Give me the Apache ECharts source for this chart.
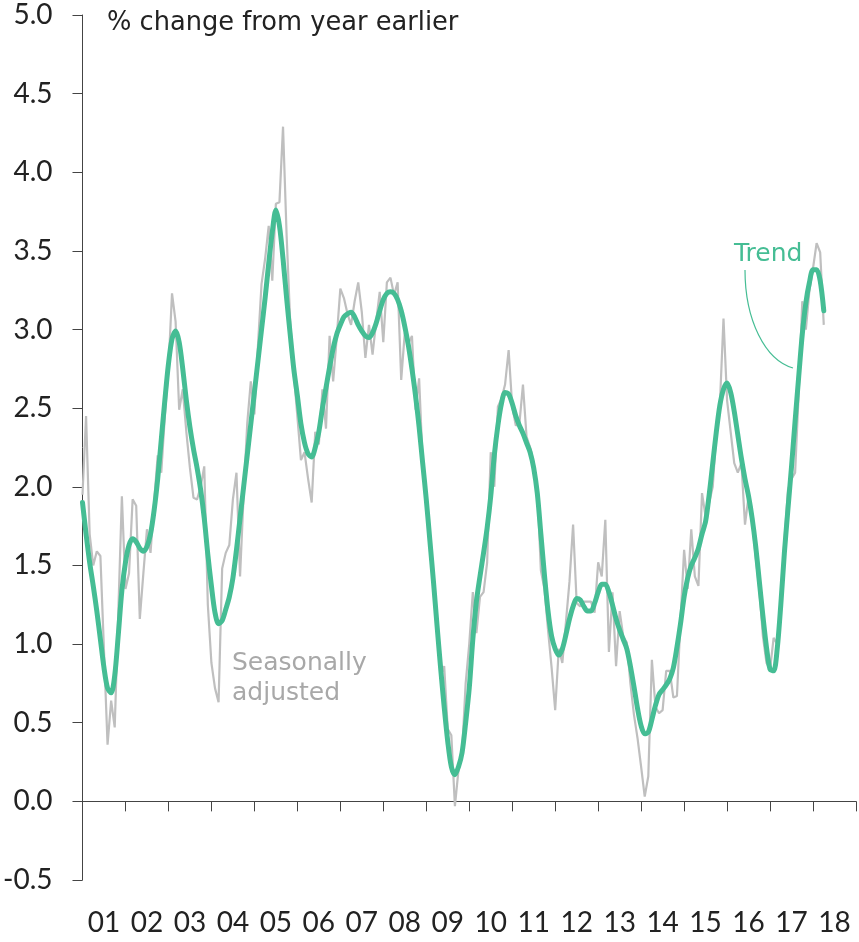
<!DOCTYPE html>
<html>
<head>
<meta charset="utf-8">
<script src="https://cdn.jsdelivr.net/npm/echarts@6/dist/echarts.min.js"></script>
<style>
  html, body { margin: 0; padding: 0; background: #fff; }
  #chart { width: 859px; height: 942px; }
</style>
</head>
<body>
<div id="chart"></div>
<script>
// Monthly series, January 2001 to April 2018 (% change from year earlier)
const startYear = 2001;
const yearLabels = ['01','02','03','04','05','06','07','08','09','10','11','12','13','14','15','16','17','18'];
const yTicks = [-0.5, 0, 0.5, 1, 1.5, 2, 2.5, 3, 3.5, 4, 4.5, 5];

const seasonallyAdjusted = [
  1.95, 2.45, 1.70, 1.50, 1.59, 1.56, 0.96, 0.36, 0.64, 0.47, 1.20, 1.94,
  1.35, 1.45, 1.92, 1.88, 1.16, 1.45, 1.73, 1.58, 1.90, 2.20, 2.09, 2.45,
  2.75, 3.23, 3.05, 2.49, 2.62, 2.35, 2.12, 1.93, 1.92, 2.00, 2.13, 1.25,
  0.88, 0.72, 0.63, 1.48, 1.58, 1.63, 1.92, 2.09, 1.43, 1.95, 2.40, 2.67,
  2.46, 2.90, 3.29, 3.45, 3.66, 3.31, 3.80, 3.81, 4.29, 3.60, 3.05, 2.72,
  2.45, 2.17, 2.22, 2.05, 1.90, 2.35, 2.27, 2.62, 2.37, 2.96, 2.67, 2.95,
  3.26, 3.20, 3.10, 3.03, 3.18, 3.30, 3.11, 2.82, 3.03, 2.84, 3.05, 3.24,
  2.92, 3.30, 3.33, 3.22, 3.30, 2.68, 2.98, 2.91, 2.96, 2.49, 2.69, 2.15,
  1.92, 1.65, 1.40, 1.10, 0.80, 0.86, 0.46, 0.42, -0.03, 0.20, 0.31, 0.75,
  1.00, 1.33, 1.07, 1.30, 1.33, 1.52, 2.22, 2.00, 2.51, 2.56, 2.65, 2.87,
  2.51, 2.39, 2.40, 2.65, 2.32, 2.25, 2.15, 2.00, 1.47, 1.35, 1.09, 0.85,
  0.58, 0.97, 0.88, 1.14, 1.40, 1.76, 1.26, 1.24, 1.27, 1.27, 1.27, 1.20,
  1.52, 1.43, 1.79, 0.95, 1.33, 0.86, 1.21, 1.05, 1.01, 0.75, 0.55, 0.40,
  0.22, 0.03, 0.16, 0.90, 0.60, 0.56, 0.58, 0.83, 0.83, 0.66, 0.67, 1.15,
  1.60, 1.35, 1.73, 1.43, 1.37, 1.96, 1.81, 1.90, 2.00, 2.35, 2.53, 3.07,
  2.55, 2.35, 2.15, 2.09, 2.15, 1.76, 1.94, 1.78, 1.55, 1.35, 1.05, 0.88,
  0.84, 1.04, 1.00, 1.30, 1.65, 1.98, 2.05, 2.09, 2.60, 3.18, 3.00, 3.25,
  3.39, 3.55, 3.49, 3.03
];

const trend = [
  1.90, 1.70, 1.52, 1.37, 1.21, 1.03, 0.85, 0.72, 0.69, 0.80, 1.06, 1.34,
  1.52, 1.63, 1.67, 1.65, 1.61, 1.59, 1.62, 1.70, 1.85, 2.05, 2.30, 2.55,
  2.78, 2.94, 2.99, 2.92, 2.75, 2.55, 2.38, 2.24, 2.12, 1.98, 1.80, 1.57,
  1.37, 1.20, 1.13, 1.15, 1.22, 1.30, 1.42, 1.60, 1.80, 2.00, 2.20, 2.40,
  2.60, 2.80, 3.00, 3.20, 3.42, 3.62, 3.76, 3.66, 3.45, 3.20, 2.97, 2.75,
  2.58, 2.40, 2.28, 2.21, 2.19, 2.25, 2.35, 2.50, 2.63, 2.76, 2.88, 2.97,
  3.03, 3.08, 3.10, 3.11, 3.08, 3.03, 2.99, 2.96, 2.95, 2.98, 3.04, 3.12,
  3.19, 3.23, 3.24, 3.23, 3.19, 3.12, 3.02, 2.90, 2.75, 2.58, 2.38, 2.15,
  1.92, 1.66, 1.40, 1.12, 0.85, 0.60, 0.38, 0.22, 0.17, 0.22, 0.31, 0.50,
  0.72, 1.03, 1.27, 1.43, 1.58, 1.74, 1.94, 2.20, 2.39, 2.53, 2.60, 2.59,
  2.53, 2.45, 2.39, 2.34, 2.28, 2.22, 2.12, 1.96, 1.70, 1.44, 1.21, 1.05,
  0.97, 0.93, 0.97, 1.06, 1.16, 1.24, 1.29, 1.28, 1.24, 1.21, 1.21, 1.26,
  1.33, 1.38, 1.38, 1.33, 1.25, 1.16, 1.09, 1.03, 0.97, 0.86, 0.73, 0.59,
  0.48, 0.43, 0.44, 0.52, 0.61, 0.68, 0.71, 0.74, 0.78, 0.85, 0.98, 1.13,
  1.30, 1.42, 1.50, 1.55, 1.61, 1.70, 1.78, 1.95, 2.15, 2.35, 2.52, 2.62,
  2.66, 2.60, 2.48, 2.33, 2.18, 2.05, 1.94, 1.80, 1.62, 1.40, 1.18, 0.98,
  0.84, 0.83, 0.97, 1.25, 1.58, 1.86, 2.13, 2.42, 2.70, 2.97, 3.17, 3.30,
  3.38, 3.38, 3.31, 3.12
];

const GREEN = '#45bd94';
const GREY = '#bfbfbf';
const FONT = 'Lato, "Noto Sans", sans-serif';
const NOTE_FONT = '"DejaVu Sans", "Noto Sans", sans-serif';

// pair each monthly value with its time in fractional years
const toPairs = arr => arr.map((v, i) => [startYear + i / 12, v]);

const chart = echarts.init(document.getElementById('chart'), null, { renderer: 'canvas' });

chart.setOption({
  animation: false,
  backgroundColor: '#fff',
  title: {
    text: '% change from year earlier',
    left: 102,
    top: 5,
    textStyle: { fontFamily: NOTE_FONT, fontSize: 25.7, fontWeight: 'normal', color: '#222' }
  },
  grid: { left: 82, right: 3, top: 15, bottom: 62 },
  xAxis: [
    {
      type: 'value',
      min: startYear,
      max: startYear + yearLabels.length,
      interval: 1,
      axisLine: { onZero: true, lineStyle: { color: '#444', width: 1 } },
      axisTick: { show: true, length: 10, lineStyle: { color: '#444' } },
      axisLabel: { show: false },
      splitLine: { show: false }
    },
    {
      type: 'category',
      data: yearLabels,
      position: 'bottom',
      boundaryGap: true,
      axisLine: { show: false },
      axisTick: { show: false },
      axisLabel: { margin: 29, fontFamily: FONT, fontSize: 28, color: '#222' },
      splitLine: { show: false }
    }
  ],
  yAxis: {
    type: 'value',
    min: yTicks[0],
    max: yTicks[yTicks.length - 1],
    interval: 0.5,
    axisLine: { show: true, lineStyle: { color: '#444', width: 1 } },
    axisTick: { show: true, length: 10, lineStyle: { color: '#444' } },
    axisLabel: {
      margin: 30,
      fontFamily: FONT,
      fontSize: 28,
      color: '#222',
      formatter: v => v.toFixed(1)
    },
    splitLine: { show: false }
  },
  series: [
    {
      name: 'Seasonally adjusted',
      type: 'line',
      xAxisIndex: 0,
      data: toPairs(seasonallyAdjusted),
      showSymbol: false,
      symbol: 'none',
      lineStyle: { color: GREY, width: 2.2 },
      z: 2
    },
    {
      name: 'Trend',
      type: 'line',
      xAxisIndex: 0,
      data: toPairs(trend),
      showSymbol: false,
      symbol: 'none',
      smooth: 0.3,
      lineStyle: { color: GREEN, width: 5, cap: 'round', join: 'round' },
      z: 3
    }
  ],
  graphic: [
    {
      type: 'text',
      left: 232,
      top: 648,
      style: {
        text: 'Seasonally\nadjusted',
        fontFamily: NOTE_FONT,
        fontSize: 25,
        lineHeight: 30,
        fill: '#a8a8a8'
      }
    },
    {
      type: 'text',
      left: 734,
      top: 242,
      style: { text: 'Trend', fontFamily: NOTE_FONT, fontSize: 25, fill: GREEN }
    },
    {
      type: 'bezierCurve',
      shape: { x1: 745, y1: 270, cpx1: 745, cpy1: 320, cpx2: 765, cpy2: 360, x2: 793, y2: 368 },
      style: { stroke: GREEN, lineWidth: 1.2, fill: null }
    }
  ]
});
</script>
</body>
</html>
